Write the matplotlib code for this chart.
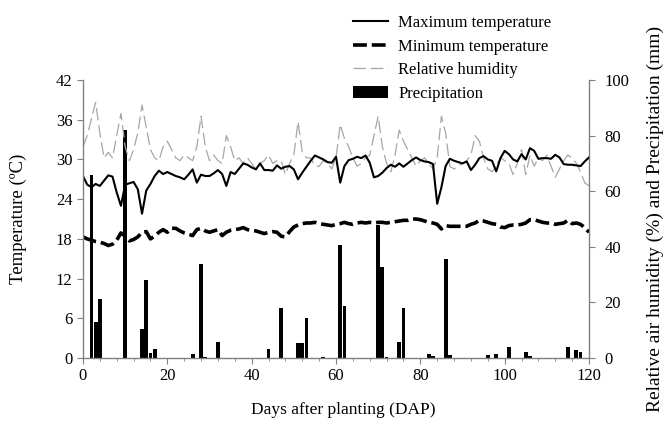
import matplotlib
matplotlib.use('Agg')
import matplotlib.pyplot as plt
from matplotlib.ticker import MultipleLocator
from matplotlib.lines import Line2D
from matplotlib.patches import Patch

plt.rcParams['font.family'] = ['Liberation Serif', 'DejaVu Serif']
plt.rcParams['lines.scale_dashes'] = False

days = list(range(0, 121))

tmax = [27.5, 26.2, 25.8, 26.3, 26.0, 26.8, 27.6, 27.4, 25.0, 23.0,
        26.2, 26.4, 26.6, 25.5, 21.8, 25.3, 26.3, 27.5, 28.3, 27.8,
        28.1, 27.8, 27.5, 27.3, 27.0, 27.7, 28.5, 26.5, 27.7, 27.5,
        27.5, 27.9, 28.4, 27.8, 26.0, 28.1, 27.8, 28.6, 29.4, 29.2,
        28.8, 28.5, 29.4, 28.4, 28.4, 28.3, 29.1, 28.6, 28.9, 29.0,
        28.5, 27.0, 28.0, 28.9, 29.8, 30.6, 30.3, 30.0, 29.6, 29.5,
        30.4, 26.5, 29.0, 29.9, 30.1, 30.4, 30.2, 30.6, 29.5, 27.3,
        27.5, 28.0, 28.7, 29.2, 28.9, 29.4, 28.9, 29.4, 29.9, 30.3,
        29.9, 29.7, 29.6, 29.3, 23.3, 25.8, 29.0, 30.1, 29.8, 29.6,
        29.4, 29.7, 28.4, 29.2, 30.2, 30.5, 30.0, 29.8, 28.2, 30.2,
        31.3, 30.8, 30.0, 29.7, 30.8, 30.0, 31.7, 31.3, 30.1, 30.2,
        30.2, 30.1, 30.7, 30.3, 29.3, 29.2, 29.2, 29.1, 29.0, 29.7,
        30.3]

tmin = [18.3, 18.0, 17.8, 17.6, 17.5, 17.3, 17.0, 17.2, 17.8, 18.9,
        18.4, 17.7, 17.9, 18.3, 19.0, 19.1, 18.0, 18.4, 19.0, 19.4,
        19.0, 19.6, 19.6, 19.2, 18.9, 18.7, 18.5, 19.4, 19.6, 19.2,
        19.0, 19.2, 19.4, 18.5, 19.0, 19.3, 19.4, 19.5, 19.7, 19.4,
        19.3, 19.2, 19.0, 18.8, 19.0, 19.1, 19.0, 18.4, 18.3, 19.1,
        19.8, 20.1, 20.3, 20.4, 20.4, 20.5, 20.3, 20.2, 20.1, 20.0,
        20.2, 20.3, 20.5, 20.3, 20.2, 20.4, 20.5, 20.4, 20.5, 20.4,
        20.5, 20.5, 20.4, 20.5, 20.6, 20.7, 20.8, 20.8, 21.0, 21.0,
        20.9, 20.7, 20.5, 20.4, 20.2, 19.5, 20.0, 19.9, 19.9, 19.9,
        19.9, 19.9, 20.2, 20.4, 20.8, 20.7, 20.5, 20.3, 20.2, 19.8,
        19.7, 20.0, 20.1, 20.1, 20.2, 20.4, 20.9, 20.9, 20.7, 20.5,
        20.4, 20.4, 20.2, 20.3, 20.4, 20.8, 20.3, 20.4, 20.2, 19.7,
        19.0]

rh = [76, 80, 86, 92, 81, 72, 74, 72, 80, 88,
      76, 71, 75, 81, 91, 83, 75, 72, 71, 76,
      78, 75, 72, 71, 73, 72, 71, 76, 87, 76,
      71, 73, 71, 70, 80, 76, 71, 72, 70, 72,
      70, 68, 70, 71, 73, 70, 71, 71, 66, 70,
      73, 85, 74, 72, 72, 69, 69, 71, 70, 68,
      72, 84, 79, 76, 72, 69, 70, 72, 73, 80,
      87, 76, 70, 67, 73, 82, 78, 75, 72, 69,
      71, 72, 70, 68, 72, 87, 81, 69, 68, 69,
      70, 71, 73, 80, 78, 72, 68, 67, 69, 72,
      71, 70, 66, 70, 75, 66, 73, 69, 72, 71,
      73, 69, 65, 68, 71, 73, 72, 70, 67, 63,
      62]

precip_days = [2, 3, 4, 10, 14, 15, 16, 17, 26, 28, 29, 32, 44, 47, 51, 52,
               53, 57, 61, 62, 70, 71, 72, 75, 76, 82, 83, 86, 87, 96, 98,
               101, 105, 106, 115, 117, 118]
precip_mm = [66, 13, 21.3, 82, 10.6, 28, 1.9, 3.1, 1.3, 33.8, 0.4, 5.8, 3.1,
             18.1, 5.5, 5.5, 14.5, 0.3, 40.6, 18.6, 48, 32.8, 0.5, 5.8, 18,
             1.3, 0.6, 35.5, 1.2, 1.0, 1.3, 4.1, 2.0, 0.6, 4.1, 2.8, 2.0]

x_ticks = [0, 20, 40, 60, 80, 100, 120]
t_ticks = [0, 6, 12, 18, 24, 30, 36, 42]
r_ticks = [0, 20, 40, 60, 80, 100]

fig = plt.figure(figsize=(6.65, 4.30), dpi=100)
ax1 = fig.add_axes([0.1248, 0.1674, 0.7609, 0.6465])
ax2 = ax1.twinx()
ax1.set_zorder(ax2.get_zorder() + 1)
ax1.patch.set_visible(False)

ax2.bar(precip_days, precip_mm, width=0.9, color='black', linewidth=0)
ax2.plot(days, rh, color='#a6a6a6', lw=0.9, dashes=(9, 3.5))
ax1.plot(days, tmax, color='black', lw=1.5)
ax1.plot(days, tmin, color='black', lw=2.6, dashes=(10, 3.5))

ax1.set_xlim(0, 120)
ax1.set_ylim(0, 42)
ax2.set_ylim(0, 100)
ax1.set_xticks(x_ticks)
ax1.set_yticks(t_ticks)
ax2.set_yticks(r_ticks)
ax1.xaxis.set_minor_locator(MultipleLocator(4))

gray = '#808080'
for ax in (ax1, ax2):
    ax.spines['top'].set_visible(False)
    for s in ('left', 'right', 'bottom'):
        ax.spines[s].set_color(gray)
        ax.spines[s].set_linewidth(1.0)
ax1.spines['right'].set_visible(False)
ax2.spines['left'].set_visible(False)
ax2.spines['bottom'].set_visible(False)

ax1.tick_params(axis='both', which='major', direction='out', length=4,
                color=gray, labelsize=12, labelcolor='black')
ax1.tick_params(axis='x', which='minor', direction='out', length=2.5, color=gray)
ax2.tick_params(axis='y', direction='out', length=4.3, color=gray, pad=7,
                labelsize=12, labelcolor='black')

ax1.set_xlabel('Days after planting (DAP)', fontsize=12.5)
ax1.xaxis.set_label_coords(0.514, -0.158)
fig.text(0.027, 0.49, 'Temperature (ºC)', rotation=90, ha='center',
         va='center', fontsize=13.5)
fig.text(0.985, 0.49, 'Relative air humidity (%) and Precipitation (mm)',
         rotation=90, ha='center', va='center', fontsize=14)

handles = [
    Line2D([], [], color='black', lw=1.5),
    Line2D([], [], color='black', lw=2.6, dashes=(10, 3.5)),
    Line2D([], [], color='#a6a6a6', lw=0.9, dashes=(9, 3.5)),
    Patch(facecolor='black', edgecolor='none'),
]
labels = ['Maximum temperature', 'Minimum temperature',
          'Relative humidity', 'Precipitation']
fig.legend(handles, labels, loc='upper left', bbox_to_anchor=(0.509, 1.0),
           frameon=False, fontsize=12, handlelength=2.1, handletextpad=0.6,
           labelspacing=0.46, borderpad=0.4)

fig.savefig('out.png', dpi=100)
